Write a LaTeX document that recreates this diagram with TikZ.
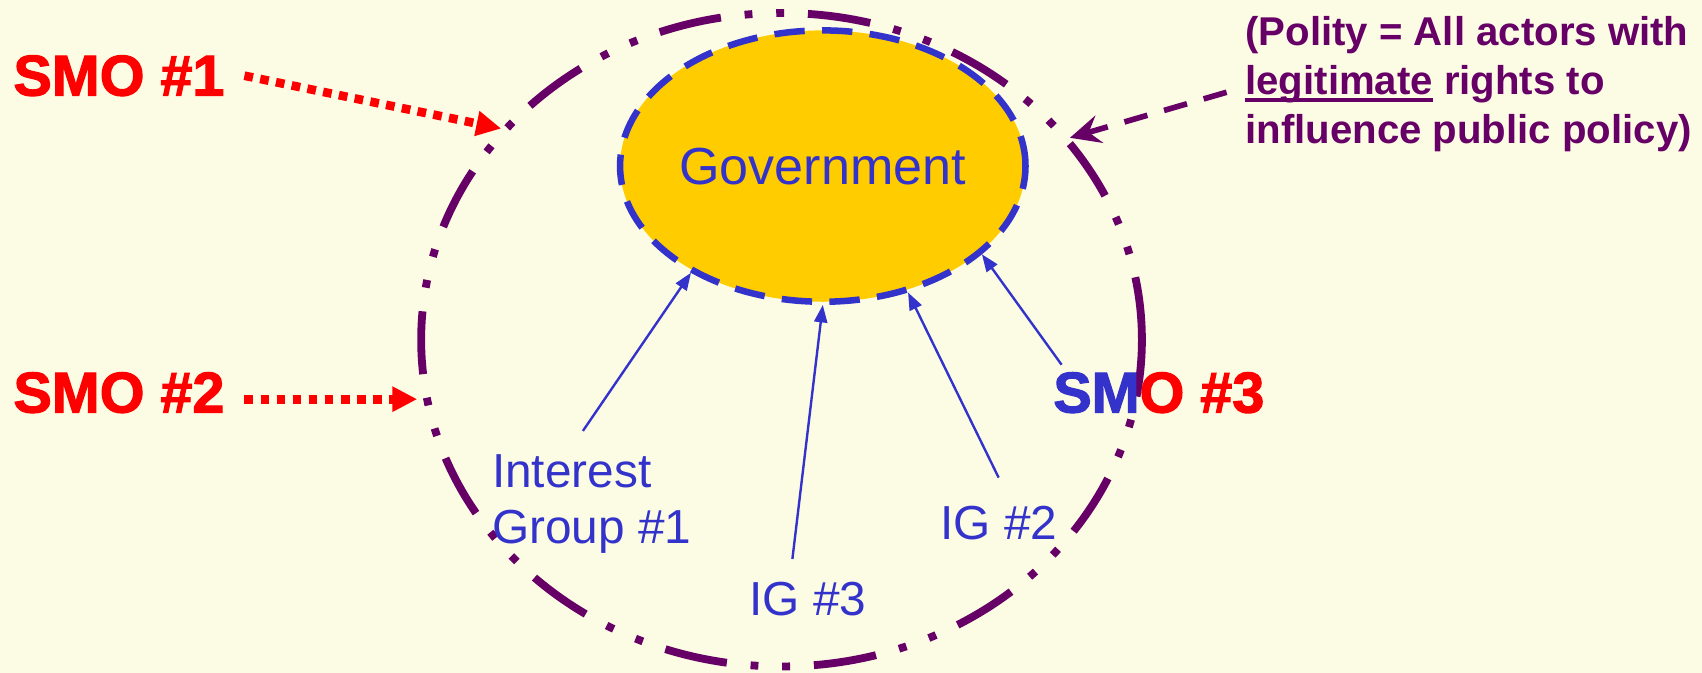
\documentclass[tikz,border=0pt]{standalone}
\usepackage{fontspec}
\setmainfont{Liberation Sans}
\newfontfamily\smofont[FakeBold=2]{Liberation Sans Bold}
\usetikzlibrary{shapes.geometric,arrows.meta}
\definecolor{bgc}{RGB}{252,251,228}
\definecolor{pur}{RGB}{102,0,102}
\definecolor{blu}{RGB}{51,51,204}
\definecolor{goldc}{RGB}{255,204,0}
\definecolor{redc}{RGB}{255,0,0}
\newcommand\thickul[1]{\begingroup\setbox0\hbox{#1}\rlap{\rule[-3.5pt]{\wd0}{2pt}}\box0\endgroup}
\begin{document}
\begin{tikzpicture}[x=0.5pt,y=-0.5pt,
  smolabel/.style={font=\smofont\fontsize{26.5}{32}\selectfont, text=redc, inner sep=0pt, anchor=base west},
  iglabel/.style={font=\fontsize{22}{26}\selectfont, text=blu, inner sep=0pt},
  igarrow/.style={draw=blu, line width=1.1pt, -{Triangle[length=8pt,width=6pt]}},
  smoarrow/.style={draw=redc, line width=4pt, dash pattern=on 4pt off 3.4pt, -{Triangle[length=11.5pt,width=11pt]}},
  polarrow/.style={draw=pur, line width=2.6pt, dash pattern=on 11pt off 8pt, -{Stealth[length=14pt,width=13pt,inset=5pt]}},
  polityring/.style={draw=pur, line width=3.6pt, ellipse, inner sep=0pt, minimum width=332pt, minimum height=301pt,
     dash pattern=on 29pt off 11pt on 3.6pt off 11pt on 3.6pt off 11pt},
  govnode/.style={draw=blu, fill=goldc, line width=3pt, ellipse, inner sep=0pt, minimum width=180pt, minimum height=125pt,
     dash pattern=on 14pt off 8pt, text=blu, font=\fontsize{24}{28}\selectfont}
]
\fill[bgc] (0,0) rectangle (1568,620);
\useasboundingbox (0,0) rectangle (1568,620);

\node[polityring] (polity) at (720,313) {};
\node[govnode] (gov) at (758,153) {Government};

\node[smolabel] (smo1) at (12,88) {SMO \#1};
\node[smolabel] (smo2) at (12,380) {SMO \#2};
\node[smolabel] (smo3) at (970,380) {{\color{blu}SM}O \#3};

\node[iglabel, anchor=north west, align=left] (ig1) at (453,418) {Interest\\Group \#1};
\node[iglabel, anchor=base west] (ig3) at (690,567) {IG \#3};
\node[iglabel, anchor=base west] (ig2) at (866,497) {IG \#2};

\node[anchor=north west, inner sep=0pt, align=left, text=pur, font=\fontsize{18.5}{22.5}\selectfont\bfseries] (poltext) at (1147,15)
  {(Polity = All actors with\\ \thickul{legitimate} rights to\\ influence public policy)};

\coordinate (t1) at (537,397);
\coordinate (t3) at (730,515);
\coordinate (t2) at (920,440);
\coordinate (t4) at (978,336);
\draw[igarrow] (t1) -- (gov.219);
\draw[igarrow] (t3) -- (gov.270);
\draw[igarrow] (t2) -- (gov.304);
\draw[igarrow] (t4) -- (gov.331);

\draw[smoarrow] ([xshift=9pt]smo1.east) -- (polity.143);
\draw[smoarrow] ([xshift=9pt,yshift=-3pt]smo2.east) -- ([yshift=-3pt]smo2.east -| polity.west);

\coordinate (pstart) at (1130,85);
\draw[polarrow] (pstart) -- (polity.35);
\end{tikzpicture}
\end{document}
